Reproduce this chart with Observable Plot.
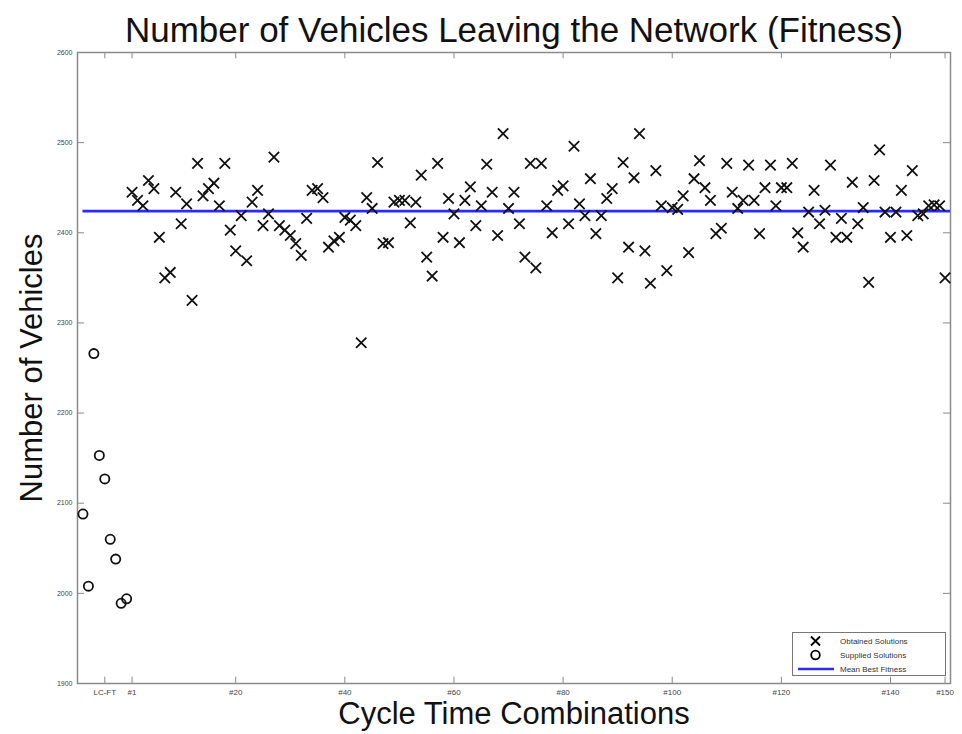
<!DOCTYPE html>
<html>
<head>
<meta charset="utf-8">
<script src="https://cdn.jsdelivr.net/npm/d3@7"></script>
<script src="https://cdn.jsdelivr.net/npm/@observablehq/plot@0.6"></script>
<style>
  body { margin: 0; background: #fff; font-family: "Liberation Sans", Arial, Helvetica, sans-serif; }
  #wrap { position: relative; width: 962px; height: 734px; }
  #legend { position: absolute; left: 792px; top: 632px; width: 154px; height: 44px; border: 1px solid #777; background: #fff; font-size: 8px; color: #333; box-sizing: border-box; padding-top: 1px; }
  #legend .row { display: flex; align-items: center; height: 14px; }
  #legend svg { flex: none; }
  #legend span { margin-left: 3px; white-space: nowrap; }
</style>
</head>
<body>
<div id="wrap">
  <div id="chart"></div>
  <div id="legend">
    <div class="row"><svg width="44" height="14"><path d="M18,2.5L27,11.5M27,2.5L18,11.5" stroke="#000" stroke-width="1.8"/></svg><span>Obtained Solutions</span></div>
    <div class="row"><svg width="44" height="14"><circle cx="22.5" cy="7" r="4.3" fill="none" stroke="#000" stroke-width="1.8"/></svg><span>Supplied Solutions</span></div>
    <div class="row"><svg width="44" height="14"><line x1="5" y1="7" x2="41" y2="7" stroke="#2b2bff" stroke-width="2.5"/></svg><span>Mean Best Fitness</span></div>
  </div>
</div>
<script>
// Supplied solutions (LC-FT group), shown as circles
const supplied = [2088, 2008, 2266, 2153, 2127, 2060, 2038, 1989, 1994];

// Obtained solutions #1 .. #150, shown as crosses
const obtained = [
  2445, 2436, 2430, 2458, 2449, 2395, 2350, 2356, 2445, 2410,
  2432, 2325, 2477, 2441, 2449, 2455, 2430, 2477, 2403, 2380,
  2419, 2369, 2434, 2447, 2408, 2421, 2484, 2408, 2403, 2397,
  2388, 2375, 2416, 2447, 2449, 2439, 2384, 2391, 2395, 2417,
  2414, 2408, 2278, 2439, 2427, 2478, 2388, 2389, 2434, 2436,
  2436, 2411, 2434, 2464, 2373, 2352, 2477, 2395, 2438, 2421,
  2389, 2436, 2451, 2408, 2430, 2476, 2445, 2397, 2510, 2427,
  2445, 2410, 2373, 2477, 2361, 2477, 2430, 2400, 2447, 2452,
  2410, 2496, 2432, 2419, 2460, 2399, 2419, 2438, 2449, 2350,
  2478, 2384, 2461, 2510, 2380, 2344, 2469, 2430, 2358, 2428,
  2426, 2441, 2378, 2460, 2480, 2450, 2436, 2399, 2405, 2477,
  2445, 2427, 2436, 2475, 2436, 2399, 2450, 2475, 2430, 2450,
  2450, 2477, 2400, 2384, 2423, 2447, 2410, 2425, 2475, 2395,
  2416, 2395, 2456, 2410, 2428, 2345, 2458, 2492, 2423, 2395,
  2423, 2447, 2397, 2469, 2419, 2421, 2430, 2431, 2430, 2350
];

const meanBest = 2424;

// Axis ticks
const xTickPos = [5, 10, 29, 49, 69, 89, 109, 129, 149, 159];
const xTickLabels = ["LC-FT", "#1", "#20", "#40", "#60", "#80", "#100", "#120", "#140", "#150"];
const yTicks = [1900, 2000, 2100, 2200, 2300, 2400, 2500, 2600];

const xDomain = [0, 160];
const yDomain = [1900, 2600];

const suppliedData = supplied.map((v, i) => ({pos: i + 1, v}));
const obtainedData = obtained.map((v, i) => ({pos: i + 10, v}));

const chart = Plot.plot({
  width: 962,
  height: 734,
  marginLeft: 77,
  marginRight: 12,
  marginTop: 52,
  marginBottom: 51,
  style: {fontFamily: '"Liberation Sans", Arial, Helvetica, sans-serif', background: "#fff"},
  x: {domain: xDomain},
  y: {domain: yDomain},
  marks: [
    Plot.frame({stroke: "#8a8a8a", strokeWidth: 1.5}),
    // inward ticks on all four sides
    Plot.ruleX(xTickPos, {x: d => d, y1: 1900, y2: 1907, stroke: "#8a8a8a"}),
    Plot.ruleX(xTickPos, {x: d => d, y1: 2600, y2: 2593, stroke: "#8a8a8a"}),
    Plot.ruleY(yTicks, {y: d => d, x1: 0, x2: 1.3, stroke: "#8a8a8a"}),
    Plot.ruleY(yTicks, {y: d => d, x1: 160, x2: 158.7, stroke: "#8a8a8a"}),
    Plot.axisX({ticks: xTickPos, tickFormat: d => xTickLabels[xTickPos.indexOf(d)], tickSize: 0, tickPadding: 6, fontSize: 8, fill: "#444", label: null}),
    Plot.axisY({ticks: yTicks, tickFormat: d => String(d), tickSize: 0, tickPadding: 5, fontSize: 7, fill: "#444", label: null}),
    Plot.ruleY([meanBest], {x1: 1, x2: 160, stroke: "#2b2bff", strokeWidth: 2.8}),
    Plot.dot(obtainedData, {x: "pos", y: "v", symbol: "times", r: 4.8, stroke: "#111", strokeWidth: 1.8}),
    Plot.dot(suppliedData, {x: "pos", y: "v", symbol: "circle", r: 4.6, stroke: "#111", strokeWidth: 1.8, fill: "none"}),
    Plot.text(["Number of Vehicles Leaving the Network (Fitness)"], {frameAnchor: "top", lineAnchor: "middle", dy: -22, fontSize: 35, fill: "#111"}),
    Plot.text(["Cycle Time Combinations"], {frameAnchor: "bottom", lineAnchor: "middle", dy: 31, fontSize: 31, fill: "#111"}),
    Plot.text(["Number of Vehicles"], {frameAnchor: "left", textAnchor: "middle", lineAnchor: "middle", dx: -45, rotate: -90, fontSize: 31, fill: "#111"})
  ]
});
document.getElementById("chart").appendChild(chart);
</script>
</body>
</html>
